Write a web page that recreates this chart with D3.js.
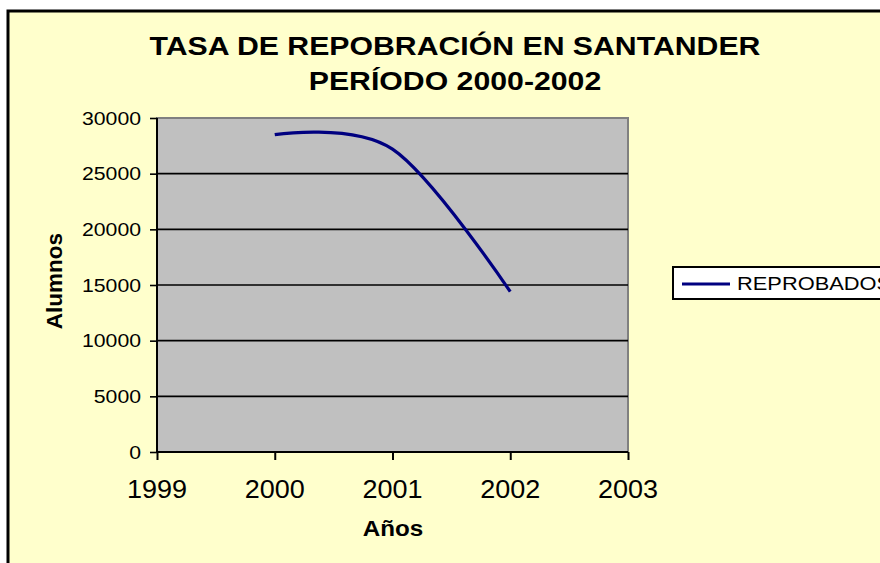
<!DOCTYPE html>
<html>
<head>
<meta charset="utf-8">
<script src="https://cdn.jsdelivr.net/npm/d3@7"></script>
<style>
  html, body { margin: 0; padding: 0; background: #ffffff; }
  svg { display: block; font-family: "Liberation Sans", Arial, sans-serif; }
</style>
</head>
<body>
<svg id="chart" width="880" height="563"></svg>
<script>
// Reprobados por año en Santander
const years = [2000, 2001, 2002];
const reprobados = [28500, 27200, 14400];
const seriesName = "REPROBADOS";

const xTicks = [1999, 2000, 2001, 2002, 2003];
const yTicks = [0, 5000, 10000, 15000, 20000, 25000, 30000];

const titleLines = ["TASA DE REPOBRACIÓN EN SANTANDER", "PERÍODO 2000-2002"];
const xTitle = "Años";
const yTitle = "Alumnos";

const svg = d3.select("#chart");
const W = 880, H = 563;

const plot = { left: 157, right: 628, top: 118, bottom: 452 };

const x = d3.scaleLinear().domain([1999, 2003]).range([plot.left, plot.right]);
const y = d3.scaleLinear().domain([0, 30000]).range([plot.bottom, plot.top]);

// page + chart frame
svg.append("rect").attr("x", 0).attr("y", 0).attr("width", W).attr("height", H).attr("fill", "#ffffff");
svg.append("rect")
  .attr("x", 8).attr("y", 11).attr("width", W + 20).attr("height", H + 20)
  .attr("fill", "#FFFFCC").attr("stroke", "#000").attr("stroke-width", 3);

// helper: text with horizontal widening
function label(x0, y0, str, opts) {
  const g = svg.append("g").attr("transform", `translate(${x0},${y0}) scale(${opts.sx || 1.18},1)`);
  return g.append("text")
    .attr("x", 0).attr("y", 0)
    .attr("text-anchor", opts.anchor || "middle")
    .attr("font-size", opts.size)
    .attr("font-weight", opts.weight || "normal")
    .attr("fill", "#000")
    .text(str);
}

// title
label(455, 55, titleLines[0], { size: 25, weight: "bold", sx: 1.21 });
label(455, 90, titleLines[1], { size: 25, weight: "bold", sx: 1.21 });

// plot area
svg.append("rect")
  .attr("x", plot.left).attr("y", plot.top)
  .attr("width", plot.right - plot.left).attr("height", plot.bottom - plot.top)
  .attr("fill", "#C0C0C0").attr("stroke", "#808080").attr("stroke-width", 2);

// horizontal gridlines
svg.append("g")
  .selectAll("line")
  .data(yTicks.filter(d => d > 0 && d < 30000))
  .join("line")
  .attr("x1", plot.left).attr("x2", plot.right)
  .attr("y1", d => y(d)).attr("y2", d => y(d))
  .attr("stroke", "#000").attr("stroke-width", 1.6);

// y axis
const yAxis = svg.append("g")
  .attr("transform", `translate(${plot.left},0)`)
  .call(d3.axisLeft(y).tickValues(yTicks).tickSize(7).tickFormat(""));
yAxis.select(".domain").attr("stroke", "#000").attr("stroke-width", 2).attr("d", `M0,${plot.top}V${plot.bottom}`);
yAxis.selectAll(".tick line").attr("stroke", "#000").attr("stroke-width", 1.6);
yTicks.forEach(v => label(141, y(v) + 6.5, String(v), { size: 18, anchor: "end" }));

// x axis
const xAxis = svg.append("g")
  .attr("transform", `translate(0,${plot.bottom})`)
  .call(d3.axisBottom(x).tickValues(xTicks).tickSize(8).tickFormat(""));
xAxis.select(".domain").attr("stroke", "#000").attr("stroke-width", 2).attr("d", `M${plot.left},0H${plot.right}`);
xAxis.selectAll(".tick line").attr("stroke", "#000").attr("stroke-width", 2);
xTicks.forEach(v => label(x(v), 498, String(v), { size: 25, sx: 1.08 }));

// axis titles
label(393, 536, xTitle, { size: 22, weight: "bold", sx: 1.1 });
svg.append("text")
  .attr("transform", "translate(62,281) rotate(-90)")
  .attr("text-anchor", "middle")
  .attr("font-size", 22.5).attr("font-weight", "bold")
  .text(yTitle);

// series line (smoothed)
const pts = years.map((yr, i) => [yr, reprobados[i]]);
const line = d3.line()
  .x(d => x(d[0])).y(d => y(d[1]))
  .curve(d3.curveCardinal.tension(0));
svg.append("path")
  .datum(pts)
  .attr("d", line)
  .attr("fill", "none")
  .attr("stroke", "#000080")
  .attr("stroke-width", 3.2)
  .attr("stroke-linejoin", "round");

// legend (runs past the right edge of the frame)
const lg = { x: 673, y: 267, h: 32 };
svg.append("rect")
  .attr("x", lg.x).attr("y", lg.y).attr("width", 260).attr("height", lg.h)
  .attr("fill", "#ffffff").attr("stroke", "#000").attr("stroke-width", 2);
svg.append("line")
  .attr("x1", 682).attr("x2", 730).attr("y1", 284).attr("y2", 284)
  .attr("stroke", "#000080").attr("stroke-width", 3.2);
label(737, 290, seriesName, { size: 19, anchor: "start", sx: 1.15 });
</script>
</body>
</html>
